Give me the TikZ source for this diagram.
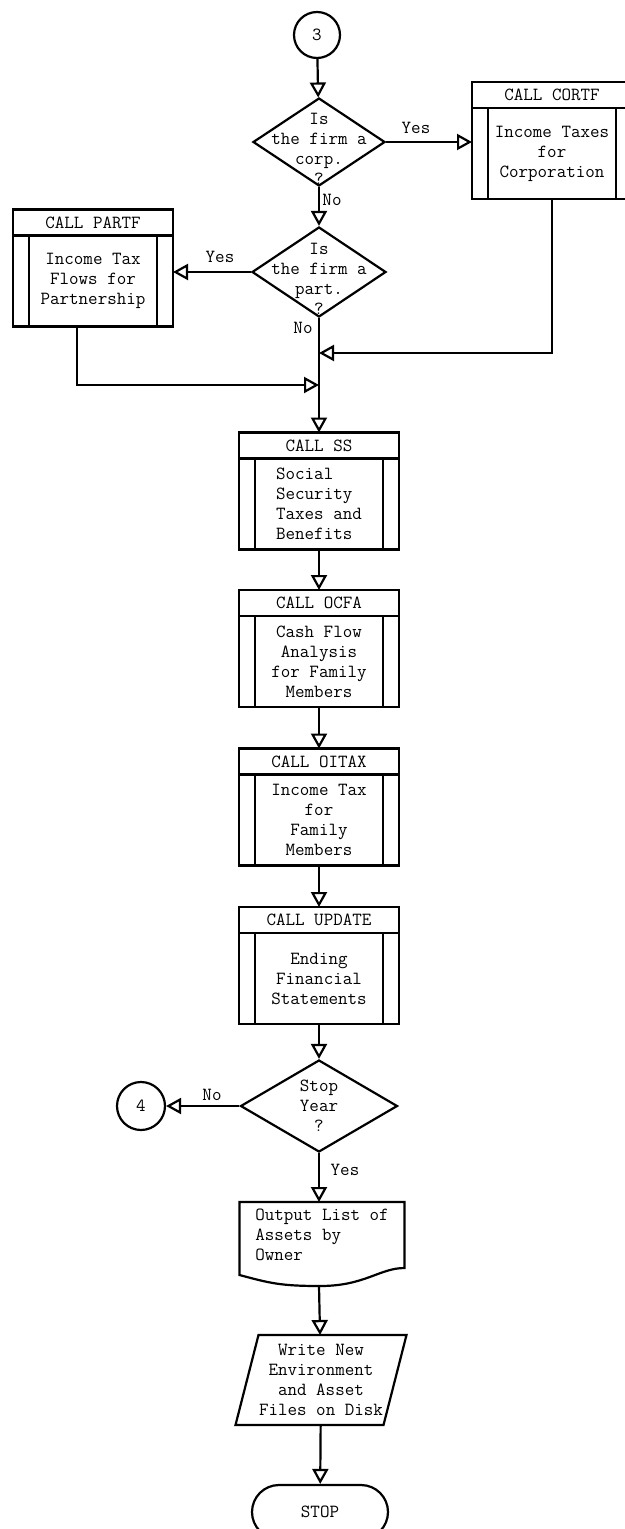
\documentclass[tikz,border=0pt]{standalone}
\usepackage{fontspec}
\usetikzlibrary{arrows.meta,positioning,shapes.geometric}

\begin{document}
\begin{tikzpicture}[x=1pt,y=-1pt,line width=2.2pt,
    txt/.style={font=\ttfamily\fontsize{18.5}{20}\selectfont,inner sep=0pt,align=center},
    conn/.style={draw,circle,minimum size=46pt,txt},
    ask/.style={draw,diamond,inner sep=0pt},
    head/.style={draw,txt,minimum width=160pt,minimum height=26pt,outer sep=0pt},
    body/.style={draw,txt,minimum width=160pt,minimum height=91pt,outer sep=0pt,
      path picture={\draw[line width=2pt]
        ([xshift=16pt]path picture bounding box.north west) -- ([xshift=16pt]path picture bounding box.south west)
        ([xshift=-16pt]path picture bounding box.north east) -- ([xshift=-16pt]path picture bounding box.south east);}},
    outbox/.style={txt,align=left,minimum width=165pt,minimum height=66pt,outer sep=0pt},
    iobox/.style={txt,minimum width=148pt,minimum height=90pt,outer sep=0pt},
    stopbox/.style={draw,txt,rounded corners=27pt,minimum width=136pt,minimum height=54pt},
    arr/.style={-{Triangle[open,length=15pt,width=16pt]}}]
  \useasboundingbox (0,0) rectangle (624,1529);

  % entry and the two firm tests
  \node[conn] (c3) at (317,35) {3};
  \node[ask,minimum width=132pt,minimum height=88pt] (d1) at (319,142) {};
  \node[txt] (d1t) at (319,149) {Is\\the firm a\\corp.\\?};
  \node[ask,minimum width=134pt,minimum height=90pt] (d2) at (319,272) {};
  \node[txt] (d2t) at (319,279) {Is\\the firm a\\part.\\?};

  \node[head] (chead) at (552,95) {CALL CORTF};
  \node[body,below=0pt of chead] (cortf) {Income Taxes\\for\\Corporation};
  \node[head] (phead) at (93,222.5) {CALL PARTF};
  \node[body,below=0pt of phead] (partf) {Income Tax\\Flows for\\Partnership};

  \node[txt] (y1) at (416,128) {Yes};
  \node[txt] (n1) at (332,200) {No};
  \node[txt] (y2) at (220,257) {Yes};
  \node[txt] (n2) at (303,328) {No};

  \coordinate (m1) at (319,353);
  \coordinate (m2) at (319,385);

  % subroutine chain
  \node[head] (sshead) at (319,445.5) {CALL SS};
  \node[body,align=left,below=0pt of sshead] (ss) {Social\\Security\\Taxes and\\Benefits};
  \node[head] (ocfahead) at (319,603) {CALL OCFA};
  \node[body,below=0pt of ocfahead] (ocfa) {Cash Flow\\Analysis\\for Family\\Members};
  \node[head] (oitaxhead) at (319,761.5) {CALL OITAX};
  \node[body,below=0pt of oitaxhead] (oitax) {Income Tax\\for\\Family\\Members};
  \node[head] (updhead) at (319,920) {CALL UPDATE};
  \node[body,below=0pt of updhead] (upd) {Ending\\Financial\\Statements};

  % end of year
  \node[ask,minimum width=157pt,minimum height=92pt] (d3) at (319,1106) {};
  \node[txt] (d3t) at (319,1106) {Stop\\Year\\?};
  \node[conn,minimum size=48pt] (c4) at (141,1106) {4};
  \node[txt] (n3) at (212,1095) {No};
  \node[txt] (y3) at (345,1170) {Yes};

  \node[outbox] (out) at (322,1235) {Output List of\\Assets by\\Owner};
  \draw (out.north west) -- (out.north east) -- (out.south east)
    .. controls +(-25,0) and +(45,0) .. ([xshift=-2pt,yshift=-18pt]out.south)
    .. controls +(-40,0) and +(30,8) .. ([yshift=-7pt]out.south west) -- cycle;

  \node[iobox] (wr) at (321,1380) {Write New\\Environment\\and Asset\\Files on Disk};
  \draw ([xshift=11.5pt]wr.north west) -- ([xshift=11.5pt]wr.north east)
    -- ([xshift=-11.5pt]wr.south east) -- ([xshift=-11.5pt]wr.south west) -- cycle;

  \node[stopbox] (stop) at (320,1512) {STOP};

  \draw[arr] (c3) -- (d1);
  \draw[arr] (d1.east) -- (d1.east -| cortf.west);
  \draw[arr] (d1) -- (d2);
  \draw[arr] (d2.west) -- (d2.west -| partf.east);
  \draw[arr] (d2) -- (sshead);
  \draw[arr] (cortf) |- (m1);
  \draw[arr] ([xshift=-16pt]partf.south) |- (m2);
  \draw[arr] (ss) -- (ocfahead);
  \draw[arr] (ocfa) -- (oitaxhead);
  \draw[arr] (oitax) -- (updhead);
  \draw[arr] (upd) -- (d3);
  \draw[arr] (d3) -- (c4);
  \draw[arr] (d3.south) -- (d3.south |- out.north);
  \draw[arr] ([xshift=-3pt,yshift=-18pt]out.south) -- (wr);
  \draw[arr] (wr) -- (stop);
\end{tikzpicture}
\end{document}
